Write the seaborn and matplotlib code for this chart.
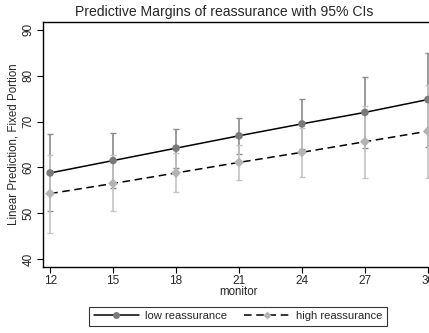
import pandas as pd
import seaborn as sns
import matplotlib.pyplot as plt
from matplotlib.lines import Line2D

# values
monitor = [12, 15, 18, 21, 24, 27, 30]
low_margin = [58.8, 61.5, 64.2, 66.9, 69.5, 72.0, 74.8]
low_lower = [50.4, 55.5, 59.8, 63.0, 64.1, 64.3, 64.5]
low_upper = [67.2, 67.5, 68.4, 70.8, 74.9, 79.8, 85.0]
high_margin = [54.3, 56.5, 58.8, 61.1, 63.3, 65.6, 67.9]
high_lower = [45.8, 50.5, 54.6, 57.2, 57.9, 57.8, 57.8]
high_upper = [62.8, 62.7, 63.1, 65.0, 68.7, 73.3, 78.0]
groups = ["low reassurance", "high reassurance"]

sns.set_style("white")
plt.rcParams['font.family'] = ['Liberation Sans', 'DejaVu Sans']

df = pd.DataFrame({
    "monitor": monitor * 2,
    "margin": low_margin + high_margin,
    "lower": low_lower + high_lower,
    "upper": low_upper + high_upper,
    "group": [groups[0]] * 7 + [groups[1]] * 7,
})

fig = plt.figure(figsize=(4.29, 3.33), dpi=100)
ax = fig.add_axes([43 / 429, 1 - 267 / 333, 392 / 429, 245 / 333])

ci_colors = {groups[0]: "#8a8a8a", groups[1]: "#c4c4c4"}
mk_colors = {groups[0]: "#7a7a7a", groups[1]: "#b4b4b4"}
markers = {groups[0]: "o", groups[1]: "D"}

# confidence intervals first, lines and markers on top
for g in groups:
    d = df[df["group"] == g]
    ax.errorbar(d["monitor"], d["margin"],
                yerr=[d["margin"] - d["lower"], d["upper"] - d["margin"]],
                fmt="none", ecolor=ci_colors[g], elinewidth=1.2,
                capsize=2.4, capthick=1.0, zorder=2)

sns.lineplot(data=df, x="monitor", y="margin", style="group",
             style_order=groups, dashes={groups[0]: "", groups[1]: (5, 3)},
             color="black", linewidth=1.1, legend=False, ax=ax, zorder=3)

for g in groups:
    d = df[df["group"] == g]
    sns.scatterplot(x=d["monitor"], y=d["margin"], marker=markers[g],
                    color=mk_colors[g], s=30 if g == groups[0] else 26,
                    edgecolor="none", legend=False, ax=ax, zorder=4)

ax.set_xlim(11.66, 30.34)
ax.set_ylim(38.3, 91.7)
ax.set_xticks(monitor)
ax.set_yticks([40, 50, 60, 70, 80, 90])
ax.tick_params(axis="both", direction="out", length=4, width=0.8,
               labelsize=8.5, color="black", pad=2)
ax.tick_params(axis="x", bottom=True)
ax.tick_params(axis="y", left=True)
for lab in ax.get_yticklabels():
    lab.set_rotation(90)
    lab.set_va("center")

for side in ["left", "bottom", "top"]:
    ax.spines[side].set_color("black")
    ax.spines[side].set_linewidth(1.0)
ax.spines["right"].set_visible(False)

ax.set_xlabel("monitor", fontsize=8.3, labelpad=-1)
ax.set_ylabel("Linear Prediction, Fixed Portion", fontsize=8.3, labelpad=2)
fig.text(0.522, 1 - 12 / 333, "Predictive Margins of reassurance with 95% CIs",
         ha="center", va="center", fontsize=10.1)

handles = [
    Line2D([], [], color="black", linewidth=1.1, marker="o",
           markerfacecolor=mk_colors[groups[0]], markeredgecolor="none",
           markersize=5),
    Line2D([], [], color="black", linewidth=1.1, linestyle=(0, (5, 3)),
           marker="D", markerfacecolor=mk_colors[groups[1]],
           markeredgecolor="none", markersize=4.5),
]
leg = fig.legend(handles, groups, loc="center", ncol=2,
                 bbox_to_anchor=(238 / 429, 1 - 316 / 333), fontsize=8.1,
                 frameon=True, fancybox=False, handlelength=4,
                 columnspacing=1.5, borderpad=0.4, handletextpad=0.6)
leg.get_frame().set_edgecolor("black")
leg.get_frame().set_linewidth(0.8)

fig.savefig("out.png", dpi=100)
